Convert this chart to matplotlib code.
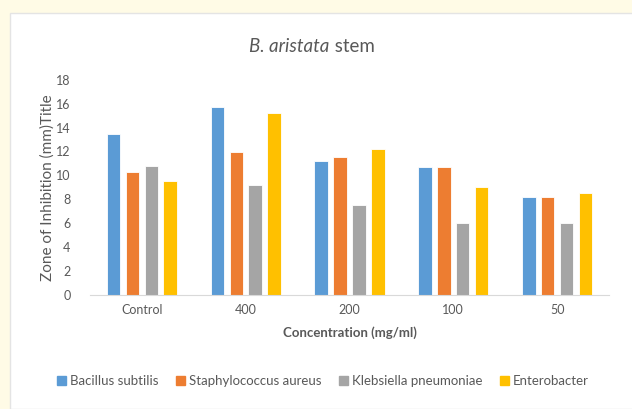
import matplotlib
matplotlib.use("Agg")
import matplotlib.pyplot as plt
import matplotlib.patches as mpatches
import numpy as np

categories = ["Control", "400", "200", "100", "50"]
series_names = ["Bacillus subtilis", "Staphylococcus aureus",
                "Klebsiella pneumoniae", "Enterobacter"]
bacillus = [13.5, 15.7, 11.2, 10.7, 8.2]
staphylococcus = [10.3, 12.0, 11.5, 10.7, 8.2]
klebsiella = [10.8, 9.2, 7.5, 6.0, 6.0]
enterobacter = [9.5, 15.2, 12.2, 9.0, 8.5]
colors = ["#5B9BD5", "#ED7D31", "#A5A5A5", "#FFC000"]
yticks = [0, 2, 4, 6, 8, 10, 12, 14, 16, 18]

plt.rcParams["font.family"] = ["Lato", "DejaVu Sans"]
text_color = "#595959"

fig = plt.figure(figsize=(6.32, 4.09), dpi=100)
fig.patch.set_facecolor("#FFFBE6")

# white chart panel with a faint border
panel = mpatches.Rectangle((10 / 632, 0.5 / 409), 1.0, (409 - 13) / 409,
                           transform=fig.transFigure, facecolor="white",
                           edgecolor="#E4E4E4", linewidth=1.0, zorder=-5)
fig.patches.append(panel)

ax = fig.add_axes([90 / 632, (409 - 294.5) / 409, (609 - 90) / 632, (294.5 - 80) / 409])
ax.set_facecolor("none")
ax.set_zorder(2)

x = np.arange(len(categories))
pitch = 0.182
width = 0.13
all_series = [bacillus, staphylococcus, klebsiella, enterobacter]
for i, (vals, name, c) in enumerate(zip(all_series, series_names, colors)):
    ax.bar(x + (i - 1.5) * pitch, vals, width, color=c, label=name,
           edgecolor="white", linewidth=0.6, zorder=2)

ax.set_xlim(-0.5, len(categories) - 0.5)
ax.set_ylim(0, 18)
ax.set_yticks(yticks)
ax.set_xticks(x)
ax.set_xticklabels(categories)
ax.tick_params(axis="both", length=0, colors=text_color, labelsize=9)
ax.tick_params(axis="y", pad=14)
ax.tick_params(axis="x", pad=7)
for s in ["top", "right", "left"]:
    ax.spines[s].set_visible(False)
ax.spines["bottom"].set_color("#D9D9D9")
ax.spines["bottom"].set_linewidth(0.8)

ax.set_xlabel("Concentration (mg/ml)", fontsize=9.5, fontweight="bold",
              color=text_color, labelpad=7)
ax.set_ylabel("Zone of Inhibition (mm)Title", fontsize=11, color=text_color,
              labelpad=1)

# title with italic species name
ty = 1 - 47 / 409
t1 = fig.text(0, ty, "B. aristata", fontsize=13.5, style="italic",
              color=text_color, va="center")
t2 = fig.text(0, ty, " stem", fontsize=13.5, color=text_color, va="center")
fig.canvas.draw()
r = fig.canvas.get_renderer()
w1 = t1.get_window_extent(r).width
w2 = t2.get_window_extent(r).width
start = 312 - (w1 + w2) / 2
t1.set_x(start / 632)
t2.set_x((start + w1) / 632)

handles = [mpatches.Patch(color=c, label=n) for c, n in zip(colors, series_names)]
leg = fig.legend(handles=handles, loc="center", bbox_to_anchor=(323 / 632, 1 - 381 / 409),
                 ncol=4, frameon=False, fontsize=9.5, handlelength=0.7,
                 handleheight=0.7, handletextpad=0.3, columnspacing=1.3)
for txt in leg.get_texts():
    txt.set_color(text_color)

fig.savefig("out.png", dpi=100, facecolor=fig.get_facecolor())
